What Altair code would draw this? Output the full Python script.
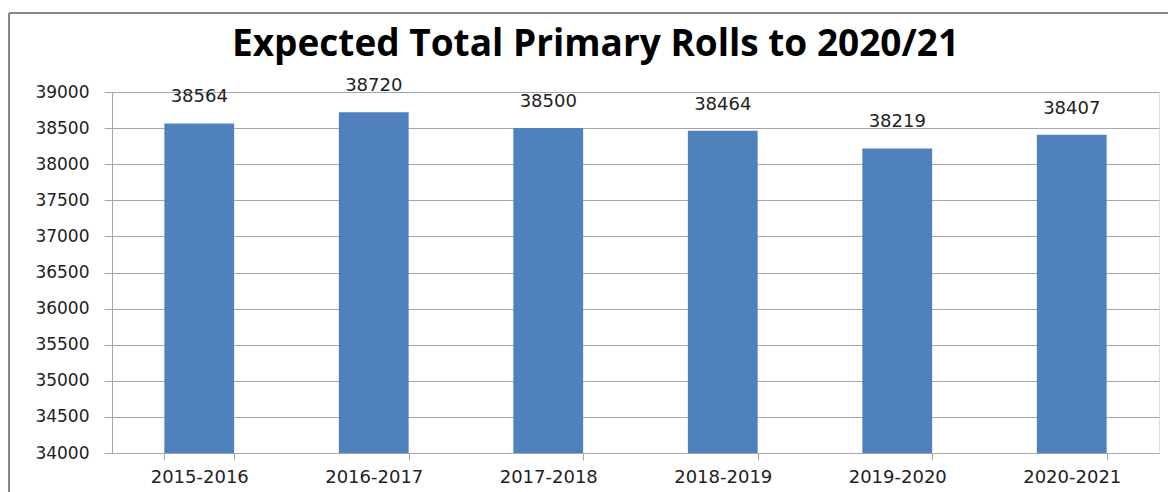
import altair as alt
import pandas as pd

years = ["2015-2016", "2016-2017", "2017-2018", "2018-2019", "2019-2020", "2020-2021"]
rolls = [38564, 38720, 38500, 38464, 38219, 38407]
y_ticks = list(range(34000, 39001, 500))
y_min = 34000
y_max = 39000

df = pd.DataFrame({"year": years, "rolls": rolls})

FONT = "DejaVu Sans"
GRID = "#a6a6a6"

x = alt.X("year:N", sort=years, title=None,
          scale=alt.Scale(paddingInner=0.6, paddingOuter=0.3),
          axis=alt.Axis(labelAngle=0, tickBand="extent", tickSize=7, labelPadding=8,
                        labelFont=FONT, labelFontSize=18, labelColor="#222222",
                        domainColor=GRID, tickColor=GRID, grid=False))
y = alt.Y("rolls:Q", title=None,
          scale=alt.Scale(domain=[y_min, y_max], nice=False, zero=False),
          axis=alt.Axis(values=y_ticks, format="d", tickSize=8, labelPadding=15,
                        labelFont=FONT, labelFontSize=17, labelColor="#222222",
                        domainColor=GRID, tickColor=GRID, gridColor=GRID))

base = alt.Chart(df)
bars = base.mark_bar(color="#4F81BD").encode(x=x, y=y, y2=alt.datum(y_min))
labels = base.mark_text(baseline="bottom", dy=-17, font=FONT, fontSize=18,
                        color="#222222").encode(x=x, y=y, text=alt.Text("rolls:Q", format="d"))

one = alt.Chart(pd.DataFrame({"a": [0]}))
frame_left = one.mark_rule(color="#868686", strokeWidth=2).encode(
    x=alt.value(-103), y=alt.value(-79), y2=alt.value(400))
frame_top = one.mark_rule(color="#868686", strokeWidth=2).encode(
    x=alt.value(-103), x2=alt.value(1060), y=alt.value(-79))

chart = alt.layer(bars, labels, frame_left, frame_top).properties(
    width=1047, height=361,
    autosize=alt.AutoSizeParams(type="none"),
    padding={"left": 104, "top": 84, "right": 9, "bottom": 39},
    title=alt.TitleParams("Expected Total Primary Rolls to 2020/21", font="Open Sans",
                          fontSize=37, fontWeight="bold", color="#000000",
                          anchor="middle", frame="group", dx=-40, offset=-52),
).configure_view(stroke=None).configure(background="white")

chart.save("out.html", embed_options={"renderer": "svg", "actions": False})
